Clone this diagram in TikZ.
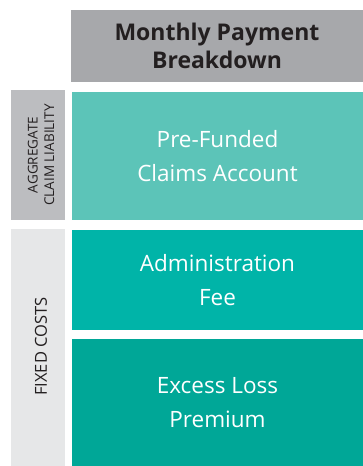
\documentclass[tikz,border=0pt]{standalone}
\usepackage{fontspec}
\setmainfont{Open Sans}
\usetikzlibrary{positioning}

\definecolor{headgray}{HTML}{A7A8AB}
\definecolor{sidegray}{HTML}{BCBDC0}
\definecolor{sidelight}{HTML}{E6E7E8}
\definecolor{tealA}{HTML}{5CC4B8}
\definecolor{tealB}{HTML}{00B4A8}
\definecolor{tealC}{HTML}{00A797}
\definecolor{inkdark}{HTML}{231F20}

\tikzset{
  block/.style={inner sep=0pt, minimum width=291pt, align=center, text=white, font=\fontsize{22.5}{34}\selectfont},
  sidebar/.style={inner sep=0pt, minimum width=54pt, align=center, text=inkdark},
}

\begin{document}
\begin{tikzpicture}[x=1pt,y=1pt]
\useasboundingbox (0,0) rectangle (363,-466);
\node (head) at (217,-46) [fill=headgray, inner sep=0pt, minimum width=292pt, minimum height=72pt,
  align=center, text=inkdark, font=\bfseries\fontsize{23}{28}\selectfont] {Monthly Payment\\Breakdown};
\node (prefund) at (217.5,-156) [block, fill=tealA, minimum height=128pt] {Pre-Funded\\Claims Account};
\node (admin) at (217.5,-280) [block, fill=tealB, minimum height=100pt] {Administration\\Fee};
\node (excess) at (217.5,-402.5) [block, fill=tealC, minimum height=127pt] {Excess Loss\\Premium};
\node (aggr) at (38,-155) [sidebar, fill=sidegray, minimum height=130pt] {};
\node (fixed) at (38,-347.5) [sidebar, fill=sidelight, minimum height=237pt] {};
\node at ([xshift=3pt]aggr.center) [rotate=90, align=center, text=inkdark, font=\fontsize{13.5}{16.5}\selectfont] {AGGREGATE\\CLAIM LIABILITY};
\node at ([xshift=3pt,yshift=1pt]fixed.center) [rotate=90, text=inkdark, font=\fontsize{16.5}{18}\selectfont] {FIXED COSTS};
\end{tikzpicture}
\end{document}
